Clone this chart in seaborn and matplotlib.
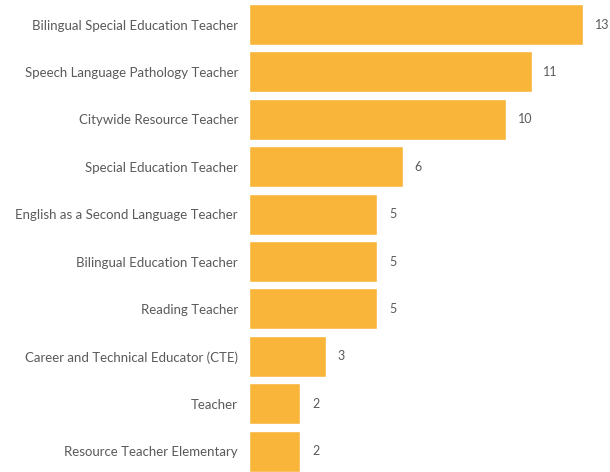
import matplotlib
matplotlib.use("Agg")
import matplotlib.pyplot as plt
import seaborn as sns
import pandas as pd

roles = [
    "Bilingual Special Education Teacher",
    "Speech Language Pathology Teacher",
    "Citywide Resource Teacher",
    "Special Education Teacher",
    "English as a Second Language Teacher",
    "Bilingual Education Teacher",
    "Reading Teacher",
    "Career and Technical Educator (CTE)",
    "Teacher",
    "Resource Teacher Elementary",
]
counts = [13, 11, 10, 6, 5, 5, 5, 3, 2, 2]

df = pd.DataFrame({"role": roles, "count": counts})

sns.set_theme(style="white")
plt.rcParams["font.family"] = ["Lato", "DejaVu Sans"]

text_color = "#5a5a5a"
bar_color = "#F9B43A"

fig = plt.figure(figsize=(6.1, 4.72), dpi=100)
ax = fig.add_axes([249 / 610, 0, 361 / 610, 1])

sns.barplot(data=df, x="count", y="role", color=bar_color, width=0.865,
            saturation=1, ax=ax, orient="h")

for i, v in enumerate(counts):
    ax.text(v + 0.45, i, str(v), va="center", ha="left",
            fontsize=9, color=text_color, clip_on=False)

ax.set_xlim(0, 14.05)
ax.set_ylim(9.44, -0.517)
ax.set_xlabel("")
ax.set_ylabel("")
ax.set_xticks([])
ax.tick_params(axis="y", length=0, pad=8, labelsize=9.5, labelcolor=text_color)
for s in ax.spines.values():
    s.set_visible(False)

fig.savefig("out.png", dpi=100)
